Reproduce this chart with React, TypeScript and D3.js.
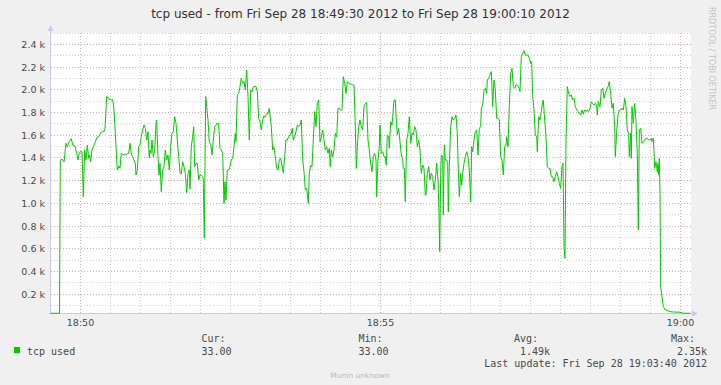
import React from "react";
import * as d3 from "d3";

const W = 721;
const H = 385;

// seconds after 18:49:30
const seconds: number[] = [
  0, 9, 9.8, 11.5, 13.5, 15.5, 16.8, 18.8, 20.8, 22.2, 24.5, 26.2, 27.5, 28.8, 30.2, 31.5, 32.8, 34.2, 35.5, 36.8, 38.2, 39.2, 40.2, 41.5, 42.8, 44.2, 45.5, 46.8, 48.8, 50.2, 52.2, 53.5, 54.5, 56.2, 57.5, 58.8, 60.8, 62.2, 63.5, 64.8, 66.8, 68.2, 69.5, 70.8, 72.2, 73.5, 74.8, 76.8, 78.2, 79.5, 80.8, 82.2, 83.5, 84.8, 85.5, 86.8, 88.2, 89.5, 90.8, 92.2, 93.5, 94.8, 96.2, 97.5, 98.8, 99.5, 100.5, 101.5, 102.8, 104.2, 105.5, 106.2, 107.5, 108.5,
  109.5, 110.8, 112.2, 113.5, 114.8, 116.2, 117.5, 118.8, 120.2, 121.5, 122.8, 124.2, 125.5, 126.8, 128.2, 129.5, 130.8, 132.2, 133.5, 134.8, 136.2, 137.5, 138.8, 139.5, 140.8, 142.2, 143.2, 144.2, 145.5, 146.8, 148.2, 149.5, 150.8, 152.2, 152.8, 153.8, 155.2, 156.2, 157.5, 158.8, 160.2, 161.5, 162.8, 164.2, 165.5, 166.8, 168.2, 169.5, 170.8, 172.2, 173.5, 174.5, 175.5, 176.8, 178.2, 179.5, 180.8, 182.2, 183.5, 184.8, 185.5, 186.8, 188.2, 189.5, 190.8, 192.2, 193.5, 194.8, 196.2, 197.5, 198.8, 200.2, 201.5, 202.8, 204.2, 205.5, 206.8, 208.2, 209.5, 210.8, 212.2, 213.5, 214.8, 216.2, 217.5, 218.8,
  220.8, 222.2, 223.5, 224.8, 226.2, 227.5, 228.8, 230.2, 231.5, 232.8, 234.2, 235.5, 236.8, 238.2, 239.5, 240.8, 241.8, 242.8, 244.2, 245.5, 246.8, 248.2, 249.5, 250.8, 252.2, 253.5, 254.8, 256.2, 257.2, 257.8, 258.8, 260.2, 261.5, 262.8, 264.2, 265.5, 266.8, 268.2, 269.5, 270.8, 272.2, 273.5, 274.8, 276.2, 277.5, 278.8, 279.8, 280.8, 282.2, 283.5, 284.8, 286.2, 287.5, 288.8, 290.2, 291.5, 292.8, 294.2, 295.5, 296.8, 298.2, 299.5, 300.8, 302.2, 303.5, 304.8, 305.8, 306.8, 308.2, 309.5, 310.8, 312.2, 313.5, 314.8, 316.2, 317.5, 318.8, 320.2, 321.5, 322.8, 324.2, 325.5, 326.2, 327.5, 328.8,
  329.5, 330.8, 332.2, 333.5, 334.8, 335.8, 336.8, 338.2, 338.8, 340.2, 341.5, 342.2, 343.5, 344.8, 345.8, 346.8, 348.2, 349.5, 350.8, 352.2, 352.8, 353.8, 354.8, 356.2, 357.5, 358.8, 360.2, 361.5, 362.8, 364.2, 365.5, 366.8, 368.2, 369.5, 370.8, 372.2, 373.5, 374.8, 375.5, 376.8, 378.2, 379.5, 380.8, 382.2, 383.5, 384.8, 386.2, 387.5, 388.5, 389.2, 390.2, 390.8, 392.2, 392.8, 393.8, 394.8, 396.2, 397.2, 397.8, 398.8, 400.2, 401.5, 402.8, 404.2, 405.5, 406.8, 407.8, 408.8, 410.2, 411.2, 412.2, 413.5, 414.8, 416.2, 417.5, 418.8, 420.2, 421.2, 422.2, 423.5, 424.8, 426.2, 427.5, 428.8, 430.2, 430.8, 432.2, 433.5, 434.8, 436.2, 436.8, 438.2,
  439.5, 440.8, 442.2, 443.5, 444.8, 446.2, 447.5, 448.8, 450.2, 451.5, 452.8, 454.2, 455.5, 456.2, 457.5, 458.8, 460.2, 461.5, 462.8, 464.2, 465.5, 466.8, 468.2, 469.5, 470.8, 472.2, 473.5, 474.8, 476.2, 477.5, 478.8, 480.2, 481.2, 482.2, 483.5, 484.8, 486.2, 486.8, 488.2, 489.5, 490.8, 492.2, 492.8, 494.2, 495.5, 496.8, 498.2, 499.5, 500.8, 502.2, 503.5, 504.8, 506.2, 507.5, 508.8, 510.2, 511.5, 512.5, 513.5, 514.5, 515.5, 516.8, 518.2, 519.5, 520.8, 522.2, 523.5, 524.8, 526.2, 527.5, 528.8, 530.2, 531.5, 532.8, 534.2, 535.5, 536.8, 538.2, 539.5, 540.8, 542.2, 543.5, 544.8, 546.2, 546.8, 547.8, 548.8,
  549.5, 550.8, 552.2, 553.5, 554.8, 556.2, 557.5, 558.8, 560.2, 561.5, 562.8, 564.2, 564.8, 566.2, 567.5, 568.8, 570.2, 571.5, 572.8, 574.2, 575.5, 576.8, 578.2, 578.8, 580.2, 580.8, 581.5, 582.8, 584.2, 585.5, 586.8, 587.8, 588.8, 590.2, 591.5, 592.8, 594.2, 595.5, 596.8, 598.2, 599.5, 600.8, 601.5, 602.8, 603.5, 604.2, 605.5, 606.8, 607.5, 608.2, 608.8, 609.5, 610.2, 611.5, 612.8, 614.8, 616.8, 619.5, 622.8, 629.5, 632.8, 640,
];

const tcpUsed: number[] = [
  33, 33, 1380, 1390, 1367, 1529, 1499, 1544, 1570, 1514, 1505, 1441, 1382, 1447, 1455, 1455, 1059, 1470, 1382, 1514, 1397, 1426, 1367, 1470, 1499, 1529, 1558, 1587, 1593, 1623, 1632, 1632, 1661, 1940, 1934, 1916, 1910, 1916, 1822, 1617, 1294, 1329, 1309, 1441, 1432, 1426, 1432, 1435, 1441, 1529, 1432, 1411, 1382, 1353, 1250, 1294, 1499, 1514, 1587, 1646, 1690, 1661, 1558, 1632, 1400, 1470, 1441, 1558, 1411, 1470, 1705, 1734, 1411, 1250,
  1353, 1103, 1294, 1323, 1470, 1382, 1426, 1294, 1499, 1617, 1632, 1763, 1705, 1558, 1411, 1265, 1259, 1367, 1323, 1265, 1094, 1265, 1294, 1127, 1499, 1587, 1676, 1323, 1353, 1353, 1206, 1250, 1250, 1236, 1206, 693, 1940, 1852, 1734, 1535, 1529, 1426, 1558, 1676, 1690, 1705, 1705, 1485, 1470, 1441, 1000, 1191, 1030, 1294, 1294, 1323, 1382, 1397, 1499, 1617, 1544, 1955, 1969, 2028, 2101, 2057, 2072, 1999, 2174, 1940, 1558, 1999, 1984, 2028, 2033, 2028, 1984, 1749, 1720, 1646, 1734, 1769, 1763, 1793, 1793, 1837,
  1676, 1470, 1494, 1411, 1309, 1294, 1382, 1397, 1338, 1270, 1411, 1558, 1558, 1587, 1602, 1617, 1661, 1558, 1587, 1632, 1690, 1676, 1690, 1734, 1382, 1279, 1118, 1132, 1059, 1000, 1265, 1333, 1323, 1558, 1808, 1676, 1881, 1910, 1544, 1587, 1646, 1558, 1470, 1499, 1441, 1485, 1323, 1470, 1411, 1470, 1617, 1587, 1837, 1837, 1822, 1822, 2115, 2057, 1969, 2072, 2057, 2051, 2051, 2042, 2042, 1676, 1309, 1499, 1676, 1734, 1676, 1646, 1852, 1881, 1887, 1558, 1470, 1353, 1279, 1411, 1441, 1382, 1059, 1382, 1499,
  1690, 1441, 1455, 1411, 1411, 1338, 1602, 1587, 1485, 1720, 1690, 1763, 1910, 1910, 1734, 1602, 1661, 1544, 1426, 1397, 1309, 1309, 1015, 1558, 1617, 1763, 1529, 1617, 1602, 1676, 1646, 1499, 1558, 1470, 1265, 1338, 1309, 1074, 1074, 1265, 1323, 1206, 1265, 1236, 1118, 1206, 1353, 1206, 913, 575, 1265, 1426, 1411, 898, 1514, 1382, 1382, 1367, 927, 1323, 1676, 1763, 1734, 1749, 1778, 1617, 1294, 1059, 1265, 1162, 1265, 1353, 1411, 1455, 1411, 1294, 1015, 1499, 1455, 1558, 1632, 1646, 1426, 1661, 1676, 1837, 1866, 1999, 2013, 1969, 2086, 2101,
  2130, 2160, 1852, 2086, 1999, 1749, 1749, 1734, 1411, 1382, 1250, 1499, 1514, 1587, 1499, 1852, 2145, 2189, 2028, 2013, 2042, 2042, 2028, 1984, 2292, 2321, 2345, 2306, 2306, 2306, 2277, 2233, 2248, 1940, 1823, 1602, 1587, 1455, 1763, 1734, 1808, 1896, 1910, 1734, 1587, 1323, 1309, 1309, 1235, 1235, 1191, 1235, 1279, 1235, 1176, 1132, 1323, 1353, 619, 517, 1558, 2028, 1969, 1940, 1955, 1910, 1925, 1852, 1823, 1808, 1793, 1778, 1823, 1787, 1823, 1808, 1823, 1808, 1837, 1896, 1881, 1866, 1881, 1866, 1778, 1896, 1866,
  1850, 1999, 2013, 1925, 1969, 1999, 2028, 2072, 1969, 1837, 1881, 1676, 1411, 1632, 1778, 1822, 1822, 1837, 1822, 1925, 1852, 1646, 1617, 1411, 1617, 1397, 1852, 1705, 1881, 1720, 1441, 766, 1646, 1661, 1529, 1544, 1558, 1573, 1573, 1558, 1558, 1573, 1544, 1573, 1455, 1309, 1367, 1279, 1353, 1250, 1397, 1089, 267, 179, 91, 62, 59, 47, 44, 42, 33, 33,
];

const yMajorTicks = [200, 400, 600, 800, 1000, 1200, 1400, 1600, 1800, 2000, 2200, 2400];
const yMinorTicks = [100, 300, 500, 700, 900, 1100, 1300, 1500, 1700, 1900, 2100, 2300, 2500];
const xMajorTicks = [30, 330, 630];
const xMajorLabels = ["18:50", "18:55", "19:00"];
const xMinorTicks = [60, 90, 120, 150, 180, 210, 240, 270, 300, 360, 390, 420, 450, 480, 510, 540, 570, 600];

const title = "tcp used - from Fri Sep 28 18:49:30 2012 to Fri Sep 28 19:00:10 2012";
const seriesName = "tcp used";
const statHeaders = ["Cur:", "Min:", "Avg:", "Max:"];
const statValues = ["33.00", "33.00", "1.49k", "2.35k"];
const lastUpdate = "Last update: Fri Sep 28 19:03:40 2012";

export default function App() {
  const x = d3.scaleLinear().domain([0, 640]).range([50.5, 690.5]);
  const y = d3.scaleLinear().domain([33, 2500]).range([313.25, 33]);
  const px = (v: number) => Math.floor(v) + 0.5;
  const pts = seconds.map((s, i) => [s, tcpUsed[i]] as [number, number]);
  const line = d3
    .line<[number, number]>()
    .x((d) => x(d[0]))
    .y((d) => y(d[1]))(pts) as string;

  const left = 51, right = 691, top = 33, bottom = 313;
  const gridMinor = "#CFCFCF";
  const gridMajor = "#E8A8A8";
  const axisColor = "#C8C8F2";
  const txt = "#4a4a4a";
  const statX = [201.5, 358.5, 514, 671];
  const valEnd = [231.5, 388.5, 550, 707];

  return (
    <svg
      width={W}
      height={H}
      style={{ position: "absolute", left: 0, top: 0, display: "block" }}
    >
      <rect x={0} y={0} width={W} height={H} fill="#F0F0F0" />
      <rect x={left} y={top} width={right - left} height={bottom - top} fill="#FFFFFF" />

      {yMinorTicks.map((v) => (
        <line key={"ym" + v} x1={left} x2={right} y1={px(y(v))} y2={px(y(v))} stroke={gridMinor} strokeDasharray="1,2" />
      ))}
      {xMinorTicks.map((t) => (
        <line key={"xm" + t} x1={x(t)} x2={x(t)} y1={top} y2={bottom} stroke={gridMinor} strokeDasharray="1,2" />
      ))}
      {yMajorTicks.map((v) => (
        <line key={"yM" + v} x1={left} x2={right} y1={px(y(v))} y2={px(y(v))} stroke={gridMajor} strokeDasharray="1,2" />
      ))}
      {xMajorTicks.map((t) => (
        <line key={"xM" + t} x1={x(t)} x2={x(t)} y1={top} y2={bottom} stroke={gridMajor} strokeDasharray="1,2" />
      ))}

      {/* axes */}
      <line x1={50.5} x2={50.5} y1={bottom + 1} y2={29} stroke={axisColor} />
      <path d="M47.5,31 L50.5,25 L53.5,31 Z" fill={axisColor} />
      <line x1={49} x2={694} y1={313.5} y2={313.5} stroke={axisColor} />
      <path d="M692,310.5 L698,313.5 L692,316.5 Z" fill={axisColor} />

      <path d={line} fill="none" stroke="#00CC00" strokeWidth={1} />

      {/* y labels */}
      {yMajorTicks.map((v) => (
        <text
          key={"yl" + v}
          x={45}
          y={px(y(v))}
          dy="0.35em"
          textAnchor="end"
          fontFamily="DejaVu Sans"
          fontSize={9.5}
          fill={txt}
        >
          {(v / 1000).toFixed(1) + " k"}
        </text>
      ))}
      {/* x labels */}
      {xMajorTicks.map((t, i) => (
        <text
          key={"xl" + t}
          x={x(t)}
          y={326}
          textAnchor="middle"
          fontFamily="DejaVu Sans"
          fontSize={9.5}
          fill={txt}
        >
          {xMajorLabels[i]}
        </text>
      ))}

      <text x={360.5} y={18} textAnchor="middle" fontFamily="DejaVu Sans" fontSize={12} fill="#333">
        {title}
      </text>

      <text
        transform="translate(712,7) rotate(90)"
        dy="0.35em"
        fontFamily="DejaVu Sans"
        fontSize={8}
        fill="#C4C4C4"
      >
        RRDTOOL / TOBI OETIKER
      </text>

      {/* legend */}
      <rect x={14} y={347} width={6} height={6} fill="#00CC00" />
      <text x={27} y={354.5} fontFamily="DejaVu Sans Mono" fontSize={10} fill={txt}>
        {seriesName}
      </text>
      {statHeaders.map((h, i) => (
        <text key={h} x={statX[i]} y={342} fontFamily="DejaVu Sans Mono" fontSize={10} fill={txt}>
          {h}
        </text>
      ))}
      {statValues.map((v, i) => (
        <text key={"sv" + i} x={valEnd[i]} y={354.5} textAnchor="end" fontFamily="DejaVu Sans Mono" fontSize={10} fill={txt}>
          {v}
        </text>
      ))}
      <text x={707} y={366.5} textAnchor="end" fontFamily="DejaVu Sans Mono" fontSize={10} fill={txt}>
        {lastUpdate}
      </text>
      <text x={360} y={377.5} textAnchor="middle" fontFamily="DejaVu Sans" fontSize={7.5} fill="#BBBBBB">
        Munin unknown
      </text>
    </svg>
  );
}
